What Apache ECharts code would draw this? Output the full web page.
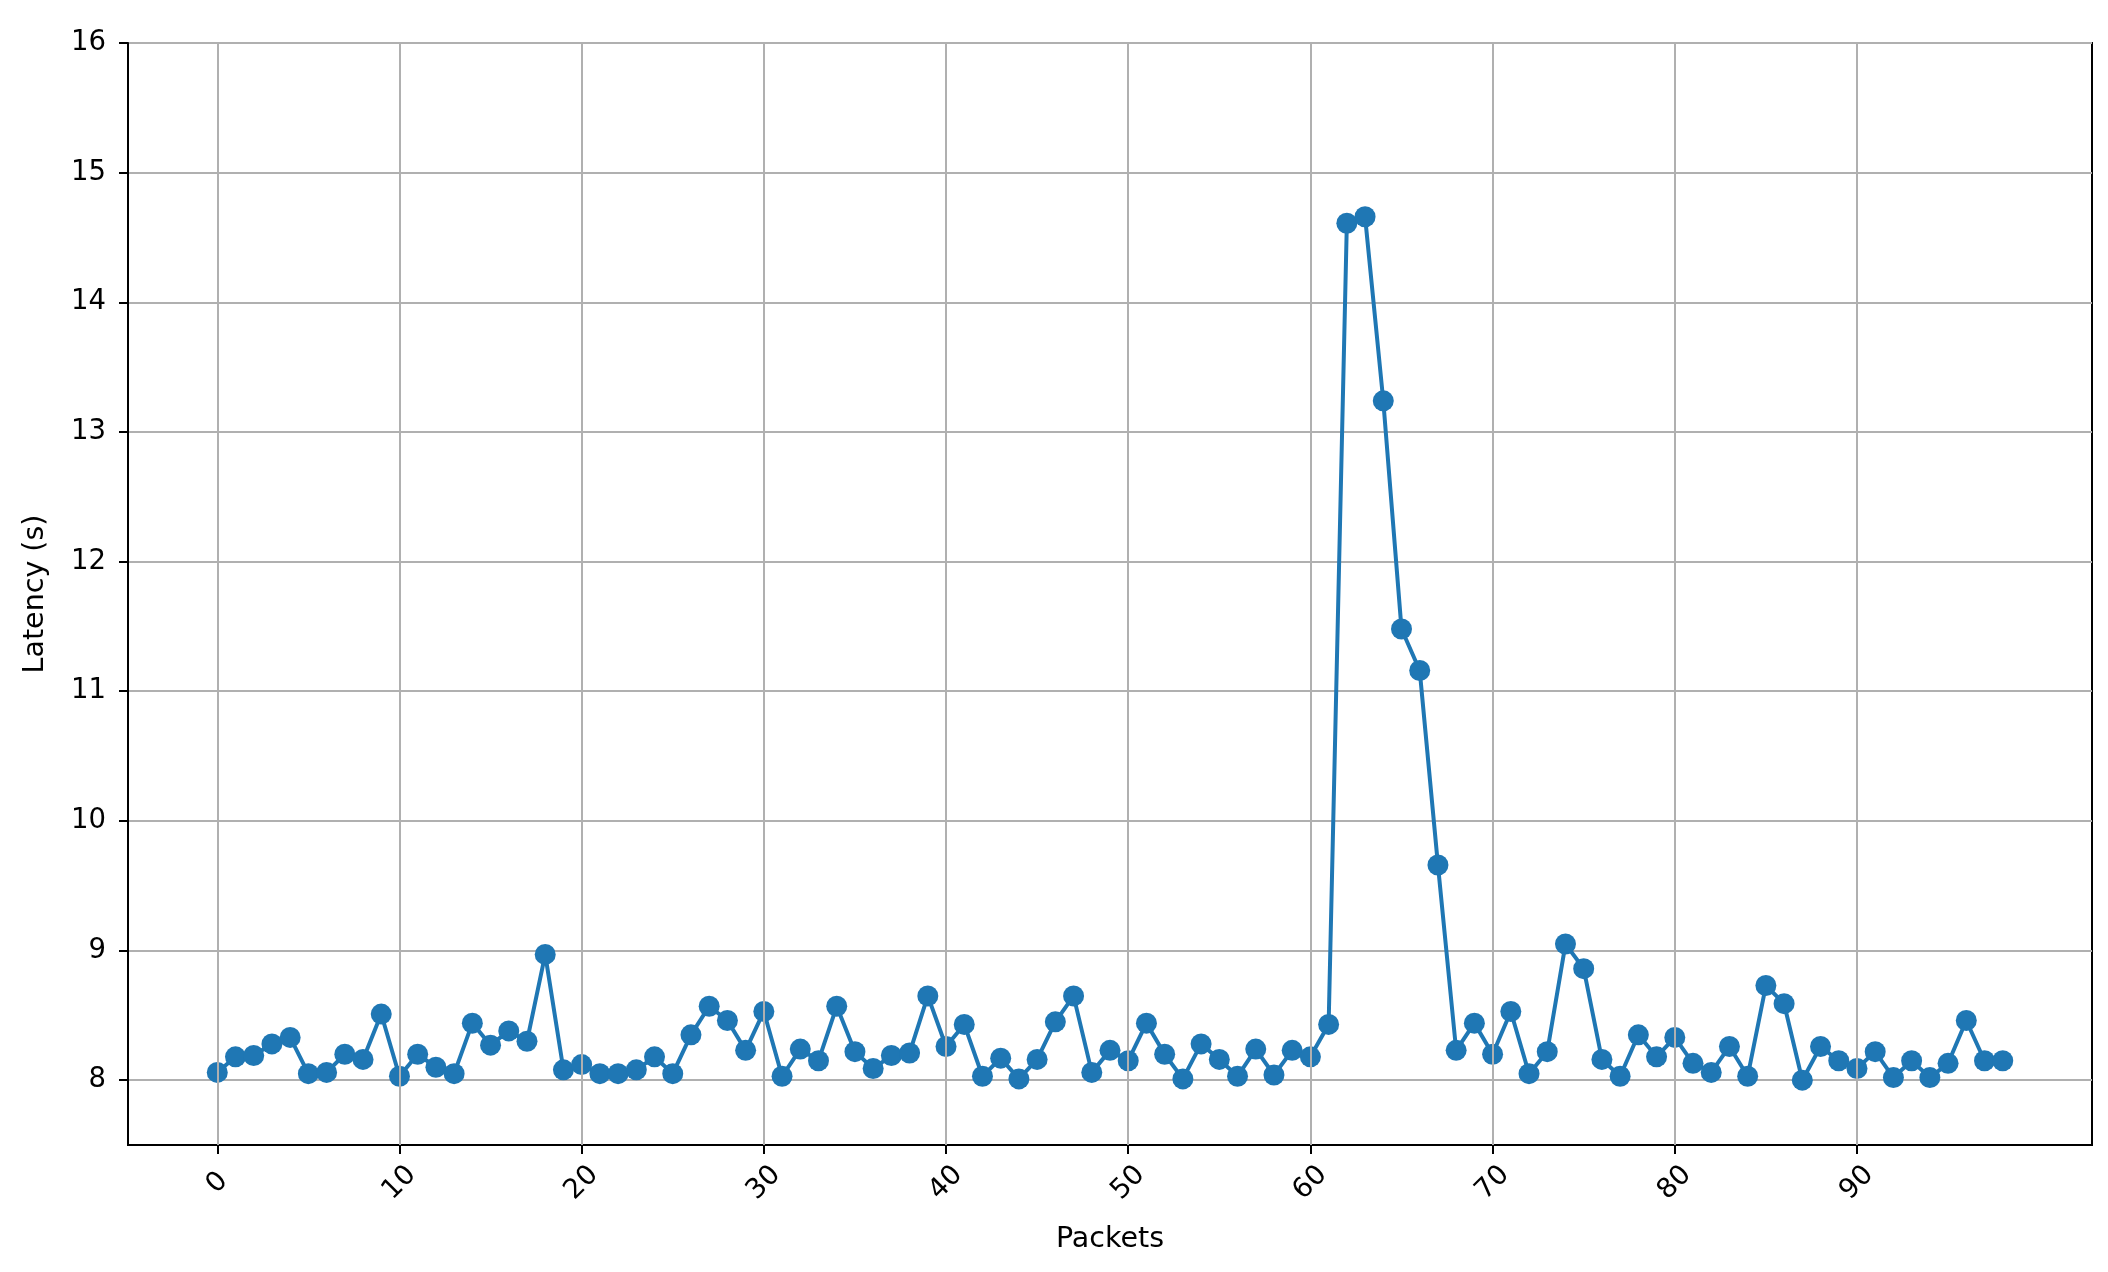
<!DOCTYPE html>
<html>
<head>
<meta charset="utf-8">
<script src="https://cdn.jsdelivr.net/npm/echarts@6/dist/echarts.min.js"></script>
<style>
  html, body { margin: 0; padding: 0; background: #fff; }
  #chart { width: 2108px; height: 1272px; }
</style>
</head>
<body>
<div id="chart"></div>
<script>
// latency per packet
var packets = [];
for (var i = 0; i < 99; i++) packets.push(i);

var latency = [
    8.06, 8.18, 8.19, 8.28, 8.33, 8.05, 8.06, 8.20, 8.16, 8.51,
    8.03, 8.20, 8.10, 8.05, 8.44, 8.27, 8.38, 8.30, 8.97, 8.08,
    8.12, 8.05, 8.05, 8.08, 8.18, 8.05, 8.35, 8.57, 8.46, 8.23,
    8.53, 8.03, 8.24, 8.15, 8.57, 8.22, 8.09, 8.19, 8.21, 8.65,
    8.26, 8.43, 8.03, 8.17, 8.01, 8.16, 8.45, 8.65, 8.06, 8.23,
    8.15, 8.44, 8.20, 8.01, 8.28, 8.16, 8.03, 8.24, 8.04, 8.23,
    8.18, 8.43, 14.61, 14.66, 13.24, 11.48, 11.16, 9.66, 8.23, 8.44,
    8.20, 8.53, 8.05, 8.22, 9.05, 8.86, 8.16, 8.03, 8.35, 8.18,
    8.33, 8.13, 8.06, 8.26, 8.03, 8.73, 8.59, 8.00, 8.26, 8.15,
    8.09, 8.22, 8.02, 8.15, 8.02, 8.13, 8.46, 8.15, 8.15
];

var xTicks = [0, 10, 20, 30, 40, 50, 60, 70, 80, 90];
var yTicks = [8, 9, 10, 11, 12, 13, 14, 15, 16];

var points = packets.map(function (p, i) { return [p, latency[i]]; });

var font = 'DejaVu Sans';
var myChart = echarts.init(document.getElementById('chart'));

var option = {
    backgroundColor: '#fff',
    animation: false,
    grid: {
        left: 128, right: 16, top: 43, bottom: 127,
        containLabel: false,
        show: true,
        borderColor: '#000',
        borderWidth: 2
    },
    xAxis: {
        type: 'value',
        min: -4.9,
        max: 102.9,
        name: 'Packets',
        nameLocation: 'middle',
        nameGap: 80,
        nameTextStyle: { fontFamily: font, fontSize: 28.5, color: '#000' },
        axisLine: { show: true, onZero: false, lineStyle: { color: '#000', width: 2 } },
        axisTick: { show: true, length: 9, customValues: xTicks, lineStyle: { color: '#000', width: 2 } },
        axisLabel: {
            customValues: xTicks,
            rotate: 45,
            align: 'center',
            verticalAlign: 'middle',
            margin: 38,
            fontFamily: font, fontSize: 27.5, color: '#000'
        },
        splitLine: { show: false }
    },
    yAxis: {
        type: 'value',
        min: 7.5,
        max: 16,
        splitNumber: 8,
        name: 'Latency (s)',
        nameLocation: 'middle',
        nameGap: 78,
        nameRotate: 90,
        nameTextStyle: { fontFamily: font, fontSize: 28.5, color: '#000' },
        axisLine: { show: true, onZero: false, lineStyle: { color: '#000', width: 2 } },
        axisTick: { show: true, length: 9, customValues: yTicks, lineStyle: { color: '#000', width: 2 } },
        axisLabel: { customValues: yTicks, margin: 22, fontFamily: font, fontSize: 27.5, color: '#000' },
        splitLine: { show: true, lineStyle: { color: '#b0b0b0', width: 2 } }
    },
    series: [
        {
            // only carries the vertical grid lines
            type: 'line',
            data: points,
            z: 1,
            silent: true,
            showSymbol: false,
            lineStyle: { opacity: 0 },
            markLine: {
                silent: true,
                symbol: ['none', 'none'],
                label: { show: false },
                lineStyle: { color: '#b0b0b0', width: 2, type: 'solid' },
                data: xTicks.map(function (v) { return { xAxis: v }; })
            }
        },
        {
            name: 'Latency',
            type: 'line',
            data: points,
            z: 3,
            symbol: 'circle',
            symbolSize: 21,
            showAllSymbol: true,
            itemStyle: { color: '#1f77b4' },
            lineStyle: { color: '#1f77b4', width: 4 }
        }
    ]
};
myChart.setOption(option);
</script>
</body>
</html>
